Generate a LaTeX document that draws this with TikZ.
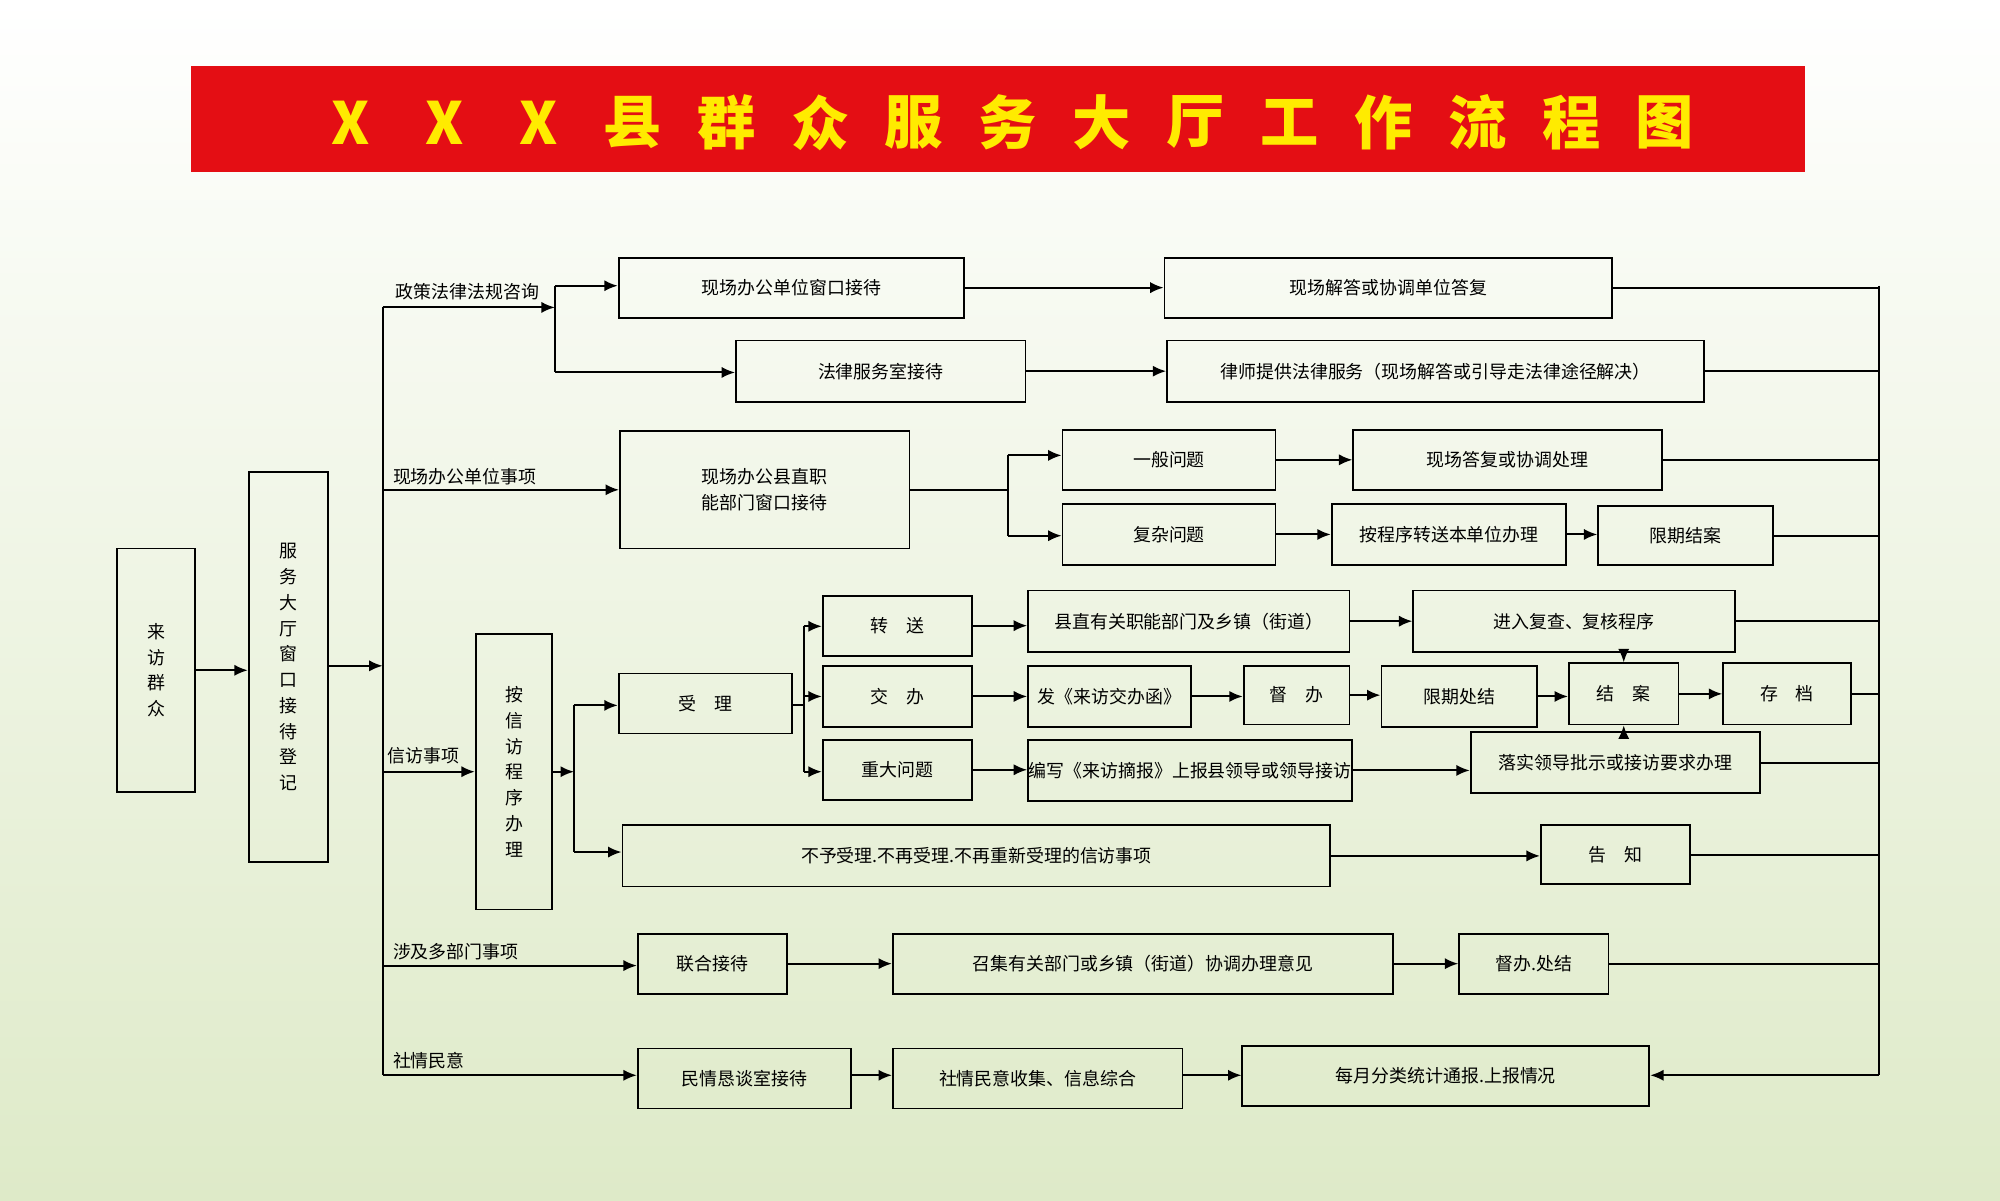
\documentclass[tikz,border=0pt]{standalone}
\usepackage{fontspec}
\setmainfont{Noto Sans CJK SC}
\usetikzlibrary{arrows.meta}
\definecolor{titlered}{RGB}{228,14,20}
\definecolor{titleyel}{RGB}{255,235,0}
\definecolor{bggreen}{RGB}{222,234,200}
\begin{document}
\begin{tikzpicture}[x=0.02cm,y=-0.02cm,
  bx/.style={draw=black,line width=0.8pt,inner sep=0pt,align=center,font=\fontsize{8}{11.5}\selectfont},
  ar/.style={-{Latex[length=6pt,width=5pt]},line width=0.9pt},
  ln/.style={line width=0.9pt},
  lab/.style={anchor=south west,inner sep=1pt,font=\fontsize{8}{10}\selectfont}]
\shade[top color=white,bottom color=bggreen] (0,0) rectangle (1568,941);
\useasboundingbox (0,0) rectangle (1568,941);
\fill[titlered] (150,52) rectangle (1415,135);
\foreach \c [count=\i from 0] in {X,X,X,县,群,众,服,务,大,厅,工,作,流,程,图}
  \node[text=titleyel,font=\fontsize{26}{28}\selectfont\bfseries] at (275+73.6*\i,96) {\c};
\newcommand\bx[6]{\node[bx,minimum width={(#4-#2)*0.02cm},minimum height={(#5-#3)*0.02cm}] (#1) at ({(#2+#4)/2},{(#3+#5)/2}) {#6};}
\bx{lf}{92}{430}{153}{621}{来\\访\\群\\众}
\bx{fw}{195}{370}{257}{676}{服\\务\\大\\厅\\窗\\口\\接\\待\\登\\记}
\bx{a1}{485}{202}{756}{249}{现场办公单位窗口接待}
\bx{a2}{577}{267}{804}{315}{法律服务室接待}
\bx{a3}{913}{202}{1264}{249}{现场解答或协调单位答复}
\bx{a4}{915}{267}{1336}{315}{律师提供法律服务（现场解答或引导走法律途径解决）}
\bx{b1}{486}{338}{713}{430}{现场办公县直职\\能部门窗口接待}
\bx{b2}{833}{337}{1000}{384}{一般问题}
\bx{b3}{833}{395}{1000}{443}{复杂问题}
\bx{b4}{1061}{337}{1303}{384}{现场答复或协调处理}
\bx{b5}{1044}{395}{1228}{443}{按程序转送本单位办理}
\bx{b6}{1253}{397}{1390}{443}{限期结案}
\bx{c0}{373}{497}{433}{713}{按\\信\\访\\程\\序\\办\\理}
\bx{c1}{485}{528}{621}{575}{受\quad 理}
\bx{c2}{488}{647}{1043}{695}{不予受理.不再受理.不再重新受理的信访事项}
\bx{c3}{645}{467}{762}{514}{转\quad 送}
\bx{c4}{645}{522}{762}{570}{交\quad 办}
\bx{c5}{645}{580}{762}{627}{重大问题}
\bx{d1}{806}{463}{1058}{511}{县直有关职能部门及乡镇（街道）}
\bx{d2}{1108}{463}{1360}{511}{进入复查、复核程序}
\bx{e1}{806}{522}{934}{570}{发《来访交办函》}
\bx{e2}{975}{522}{1058}{568}{督\quad 办}
\bx{e3}{1083}{522}{1205}{570}{限期处结}
\bx{e4}{1230}{520}{1316}{568}{结\quad 案}
\bx{e5}{1351}{520}{1451}{568}{存\quad 档}
\bx{f1}{806}{580}{1060}{628}{编写《来访摘报》上报县领导或领导接访}
\bx{f2}{1153}{574}{1380}{622}{落实领导批示或接访要求办理}
\bx{g1}{1208}{647}{1325}{693}{告\quad 知}
\bx{h1}{500}{732}{617}{779}{联合接待}
\bx{h2}{700}{732}{1092}{779}{召集有关部门或乡镇（街道）协调办理意见}
\bx{h3}{1144}{732}{1261}{779}{督办.处结}
\bx{i1}{500}{822}{667}{869}{民情恳谈室接待}
\bx{i2}{700}{822}{927}{869}{社情民意收集、信息综合}
\bx{i3}{974}{820}{1293}{867}{每月分类统计通报.上报情况}
% left
\draw[ar] (lf.east) -- (fw.west |- lf.east);
\coordinate (tr) at (300,522);
\draw[ar] (fw.east |- tr) -- (tr);
\coordinate (t1) at (300,241); \coordinate (t6) at (300,843);
\draw[ln] (t1) -- (t6);
% branch 1
\coordinate (s1) at (435,241); \coordinate (s1a) at (435,224); \coordinate (s1b) at (435,292);
\draw[ar] (t1) -- (s1);
\draw[ln] (s1a) -- (s1b);
\draw[ar] (s1a) -- (a1.west |- s1a);
\draw[ar] (s1b) -- (a2.west |- s1b);
\draw[ar] (a1.east) -- (a3.west |- a1.east);
\draw[ar] (a2.east) -- (a4.west |- a2.east);
\node[lab] at (308,237) {政策法律法规咨询};
% branch 2
\coordinate (t2) at (300,384);
\draw[ar] (t2) -- (b1.west |- t2);
\node[lab] at (306,382) {现场办公单位事项};
\coordinate (s2) at (790,384); \coordinate (s2a) at (790,357); \coordinate (s2b) at (790,420);
\draw[ln] (b1.east |- s2) -- (s2); \draw[ln] (s2a) -- (s2b);
\draw[ar] (s2a) -- (b2.west |- s2a);
\draw[ar] (s2b) -- (b3.west |- s2b);
\draw[ar] (b2.east) -- (b4.west |- b2.east);
\draw[ar] (b3.east) -- (b5.west |- b3.east);
\draw[ar] (b5.east) -- (b6.west |- b5.east);
% branch 3
\coordinate (t3) at (300,605);
\draw[ar] (t3) -- (c0.west |- t3);
\node[lab] at (302,601) {信访事项};
\coordinate (s3) at (450,605); \coordinate (s3a) at (450,553); \coordinate (s3b) at (450,668);
\draw[ar] (c0.east |- s3) -- (s3); \draw[ln] (s3a) -- (s3b);
\draw[ar] (s3a) -- (c1.west |- s3a);
\draw[ar] (s3b) -- (c2.west |- s3b);
\coordinate (s4) at (630,553); \coordinate (s4a) at (630,491); \coordinate (s4b) at (630,605); \coordinate (s4c) at (630,546);
\draw[ln] (c1.east |- s4) -- (s4); \draw[ln] (s4a) -- (s4b);
\draw[ar] (s4a) -- (c3.west |- s4a);
\draw[ar] (s4c) -- (c4.west |- s4c);
\draw[ar] (s4b) -- (c5.west |- s4b);
\draw[ar] (c3.east) -- (d1.west |- c3.east);
\draw[ar] (d1.east |- d2.west) -- (d2.west);
\draw[ar] (c4.east) -- (e1.west |- c4.east);
\draw[ar] (e1.east) -- (e2.west |- e1.east);
\draw[ar] (e2.east) -- (e3.west |- e2.east);
\draw[ar] (e3.east) -- (e4.west |- e3.east);
\draw[ar] (e4.east) -- (e5.west |- e4.east);
\draw[ar] (c5.east) -- (f1.west |- c5.east);
\draw[ar] (f1.east) -- (f2.west |- f1.east);
\draw[ar] (d2.south -| e4.north) -- (e4.north);
\draw[ar] (f2.north -| e4.south) -- (e4.south);
\draw[ar] (c2.east) -- (g1.west |- c2.east);
% branch 4
\coordinate (t4) at (300,757);
\draw[ar] (t4) -- (h1.west |- t4);
\node[lab] at (306,755) {涉及多部门事项};
\draw[ar] (h1.east) -- (h2.west |- h1.east);
\draw[ar] (h2.east) -- (h3.west |- h2.east);
% branch 5
\draw[ar] (t6) -- (i1.west |- t6);
\node[lab] at (306,840) {社情民意};
\draw[ar] (i1.east |- t6) -- (i2.west |- t6);
\draw[ar] (i2.east |- t6) -- (i3.west |- t6);
% right collector
\coordinate (r1) at (1473,224); \coordinate (r9) at (1473,843);
\draw[ln] (r1) -- (r9);
\draw[ar] (r9) -- (i3.east |- r9);
\foreach \n in {a3,a4,b4,b6,d2,e5,f2,g1,h3} \draw[ln] (\n.east) -- (\n.east -| r1);
\end{tikzpicture}
\end{document}
